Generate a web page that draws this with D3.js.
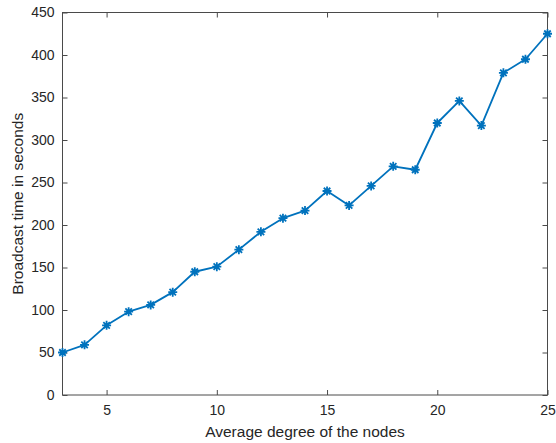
<!DOCTYPE html>
<html>
<head>
<meta charset="utf-8">
<script src="https://cdn.jsdelivr.net/npm/d3@7"></script>
<style>
  html, body { margin: 0; padding: 0; background: #fff; }
  svg { display: block; }
  text { font-family: "Liberation Sans", Arial, Helvetica, sans-serif; fill: #262626; }
</style>
</head>
<body>
<svg id="chart" width="556" height="443"></svg>
<script>
const degrees = [3, 4, 5, 6, 7, 8, 9, 10, 11, 12, 13, 14, 15, 16, 17, 18, 19, 20, 21, 22, 23, 24, 25];
const broadcastTimes = [50, 59, 82, 98, 106, 121, 145, 151, 171, 192, 208, 217, 240, 223, 246, 269, 265, 320, 346, 317, 379, 395, 425];
const xTicks = [5, 10, 15, 20, 25];
const yTicks = [0, 50, 100, 150, 200, 250, 300, 350, 400, 450];
const xLabel = "Average degree of the nodes";
const yLabel = "Broadcast time in seconds";

(function () {
const mLeft = 62.5, mRight = 547.5, mTop = 12.5, mBottom = 395;
const svg = d3.select("#chart");

const x = d3.scaleLinear().domain([3, 25]).range([mLeft, mRight]);
const y = d3.scaleLinear().domain([0, 450]).range([mBottom, mTop]);

const axisColor = "#4a4a4a";
const tickLen = 5;

svg.append("rect")
  .attr("x", mLeft).attr("y", mTop)
  .attr("width", mRight - mLeft).attr("height", mBottom - mTop)
  .attr("fill", "none").attr("stroke", axisColor).attr("stroke-width", 1);

const xAxis = svg.append("g").attr("transform", `translate(0,${mBottom})`)
  .call(d3.axisBottom(x).tickValues(xTicks).tickSizeInner(-tickLen).tickSizeOuter(0).tickPadding(10));
xAxis.select(".domain").remove();
xAxis.selectAll("line").attr("stroke", axisColor);
xAxis.selectAll("text").attr("font-size", 14).attr("fill", "#262626")
  .style("font-family", '"Liberation Sans", Arial, sans-serif');

const xAxisTop = svg.append("g").attr("transform", `translate(0,${mTop})`)
  .call(d3.axisTop(x).tickValues(xTicks).tickSizeInner(-tickLen).tickSizeOuter(0).tickFormat(""));
xAxisTop.select(".domain").remove();
xAxisTop.selectAll("line").attr("stroke", axisColor);

const yAxis = svg.append("g").attr("transform", `translate(${mLeft},0)`)
  .call(d3.axisLeft(y).tickValues(yTicks).tickSizeInner(-tickLen).tickSizeOuter(0).tickPadding(8));
yAxis.select(".domain").remove();
yAxis.selectAll("line").attr("stroke", axisColor);
yAxis.selectAll("text").attr("font-size", 14).attr("fill", "#262626")
  .style("font-family", '"Liberation Sans", Arial, sans-serif');

const yAxisRight = svg.append("g").attr("transform", `translate(${mRight},0)`)
  .call(d3.axisRight(y).tickValues(yTicks).tickSizeInner(-tickLen).tickSizeOuter(0).tickFormat(""));
yAxisRight.select(".domain").remove();
yAxisRight.selectAll("line").attr("stroke", axisColor);

svg.append("text")
  .attr("x", (mLeft + mRight) / 2).attr("y", 437)
  .attr("text-anchor", "middle").attr("font-size", 15.5)
  .text(xLabel);

svg.append("text")
  .attr("transform", `translate(23,${(mTop + mBottom) / 2}) rotate(-90)`)
  .attr("text-anchor", "middle").attr("font-size", 15.5)
  .text(yLabel);

const data = degrees.map((d, i) => ({ x: d, y: broadcastTimes[i] }));
const lineColor = "#0072BD";

svg.append("path")
  .datum(data)
  .attr("fill", "none")
  .attr("stroke", lineColor)
  .attr("stroke-width", 1.8)
  .attr("stroke-linejoin", "round")
  .attr("d", d3.line().x(d => x(d.x)).y(d => y(d.y)));

const r = 4.5, rd = r * 0.72;
const starPath = `M${-r},0L${r},0M0,${-r}L0,${r}M${-rd},${-rd}L${rd},${rd}M${-rd},${rd}L${rd},${-rd}`;
svg.append("g").selectAll("path")
  .data(data)
  .join("path")
  .attr("transform", d => `translate(${x(d.x)},${y(d.y)})`)
  .attr("d", starPath)
  .attr("fill", "none")
  .attr("stroke", lineColor)
  .attr("stroke-width", 1.8);
})();
</script>
</body>
</html>
